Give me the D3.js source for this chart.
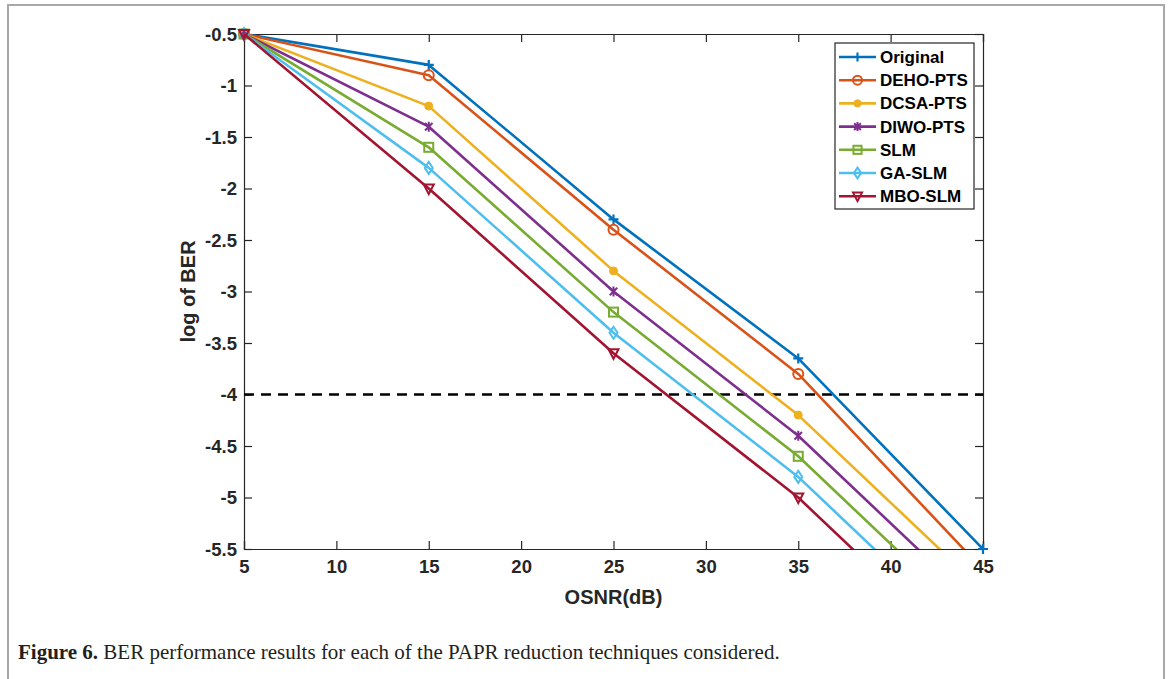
<!DOCTYPE html>
<html>
<head>
<meta charset="utf-8">
<script src="https://cdn.jsdelivr.net/npm/d3@7"></script>
<style>
  html, body { margin: 0; padding: 0; background: #fff; }
  svg { display: block; }
</style>
</head>
<body>
<svg id="chart" width="1170" height="679"></svg>
<script>
// OSNR sweep points (dB)
const osnr = [5, 15, 25, 35, 45];

// log10(BER) per technique
const original = [-0.5, -0.8, -2.3, -3.65, -5.5];
const dehoPts  = [-0.5, -0.9, -2.4, -3.8, -5.7];
const dcsaPts  = [-0.5, -1.2, -2.8, -4.2, -5.9];
const diwoPts  = [-0.5, -1.4, -3.0, -4.4, -6.1];
const slm      = [-0.5, -1.6, -3.2, -4.6, -6.3];
const gaSlm    = [-0.5, -1.8, -3.4, -4.8, -6.5];
const mboSlm   = [-0.5, -2.0, -3.6, -5.0, -6.7];

const seriesNames = ["Original", "DEHO-PTS", "DCSA-PTS", "DIWO-PTS", "SLM", "GA-SLM", "MBO-SLM"];
const seriesValues = [original, dehoPts, dcsaPts, diwoPts, slm, gaSlm, mboSlm];
const seriesColors = ["#0072BD", "#D95319", "#EDB120", "#7E2F8E", "#77AC30", "#4DBEEE", "#A2142F"];
const seriesMarkers = ["plus", "circle", "dot", "star", "square", "diamond", "triangle"];

// Reference threshold
const thresholdLevel = -4;

const xTicks = [5, 10, 15, 20, 25, 30, 35, 40, 45];
const yTicks = [-0.5, -1, -1.5, -2, -2.5, -3, -3.5, -4, -4.5, -5, -5.5];

const svg = d3.select("#chart");
const pLeft = 244, pRight = 983, pTop = 34, pBottom = 549;

const x = d3.scaleLinear().domain([5, 45]).range([pLeft, pRight]);
const y = d3.scaleLinear().domain([-5.5, -0.5]).range([pBottom, pTop]);

const sans = "'Liberation Sans', Arial, sans-serif";

// Outer figure frame
svg.append("rect")
  .attr("x", 8).attr("y", 5).attr("width", 1156).attr("height", 720)
  .attr("fill", "none").attr("stroke", "#a8a8a8").attr("stroke-width", 2);

svg.append("defs").append("clipPath").attr("id", "plotClip")
  .append("rect").attr("x", pLeft).attr("y", pTop)
  .attr("width", pRight - pLeft).attr("height", pBottom - pTop);

// Axes (box with inward ticks on all sides); labels use a plain hyphen minus
const tickLen = 8;
const fmt = d => String(d);

const axB = svg.append("g").attr("transform", `translate(0,${pBottom})`)
  .call(d3.axisBottom(x).tickValues(xTicks).tickSize(-tickLen).tickPadding(8).tickFormat(fmt));
const axT = svg.append("g").attr("transform", `translate(0,${pTop})`)
  .call(d3.axisTop(x).tickValues(xTicks).tickSize(-tickLen).tickFormat(""));
const axL = svg.append("g").attr("transform", `translate(${pLeft},0)`)
  .call(d3.axisLeft(y).tickValues(yTicks).tickSize(-tickLen).tickPadding(7).tickFormat(fmt));
const axR = svg.append("g").attr("transform", `translate(${pRight},0)`)
  .call(d3.axisRight(y).tickValues(yTicks).tickSize(-tickLen).tickFormat(""));

[axB, axT, axL, axR].forEach(a => {
  a.select(".domain").attr("stroke", "#262626").attr("stroke-width", 1.2);
  a.selectAll(".tick line").attr("stroke", "#262626").attr("stroke-width", 1.2);
  a.selectAll("text").attr("font-family", sans).attr("font-weight", "bold")
    .attr("font-size", 18.5).attr("fill", "#262626");
});
axB.selectAll("text").attr("dy", "0.85em");
axL.selectAll("text").attr("dy", "0.35em");

// Axis titles
svg.append("text").attr("x", (pLeft + pRight) / 2).attr("y", 604)
  .attr("text-anchor", "middle").attr("font-family", sans).attr("font-weight", "bold")
  .attr("font-size", 20).attr("fill", "#262626").text("OSNR(dB)");

svg.append("text").attr("transform", `translate(195,${(pTop + pBottom) / 2}) rotate(-90)`)
  .attr("text-anchor", "middle").attr("font-family", sans).attr("font-weight", "bold")
  .attr("font-size", 20).attr("fill", "#262626").text("log of BER");

// Threshold line
svg.append("line")
  .attr("x1", x(5)).attr("x2", x(45)).attr("y1", y(thresholdLevel)).attr("y2", y(thresholdLevel))
  .attr("stroke", "#000").attr("stroke-width", 2.5).attr("stroke-dasharray", "10,7");

// Marker drawing
function drawMarker(g, type, color, size) {
  const s = size;
  switch (type) {
    case "plus":
      g.append("path").attr("d", `M${-s},0H${s}M0,${-s}V${s}`)
        .attr("stroke", color).attr("stroke-width", 2.2).attr("fill", "none");
      break;
    case "circle":
      g.append("circle").attr("r", s).attr("fill", "none").attr("stroke", color).attr("stroke-width", 2);
      break;
    case "dot":
      g.append("circle").attr("r", s * 0.8).attr("fill", color).attr("stroke", color).attr("stroke-width", 1);
      break;
    case "star": {
      const d = s * 0.75;
      g.append("path").attr("d", `M${-d},${-d}L${d},${d}M${-d},${d}L${d},${-d}M0,${-s}V${s}`)
        .attr("stroke", color).attr("stroke-width", 2).attr("fill", "none");
      break;
    }
    case "square":
      g.append("rect").attr("x", -s * 0.9).attr("y", -s * 0.9).attr("width", s * 1.8).attr("height", s * 1.8)
        .attr("fill", "none").attr("stroke", color).attr("stroke-width", 2);
      break;
    case "diamond":
      g.append("path").attr("d", `M0,${-s * 1.2}L${s * 0.8},0L0,${s * 1.2}L${-s * 0.8},0Z`)
        .attr("fill", "none").attr("stroke", color).attr("stroke-width", 2);
      break;
    case "triangle":
      g.append("path").attr("d", `M${-s},${-s * 0.8}L${s},${-s * 0.8}L0,${s * 1.1}Z`)
        .attr("fill", "none").attr("stroke", color).attr("stroke-width", 2);
      break;
  }
}

const line = d3.line().x(d => x(d[0])).y(d => y(d[1]));

seriesValues.forEach((vals, i) => {
  const pts = osnr.map((o, k) => [o, vals[k]]);
  svg.append("path").datum(pts)
    .attr("clip-path", "url(#plotClip)")
    .attr("d", line).attr("fill", "none")
    .attr("stroke", seriesColors[i]).attr("stroke-width", 2.6)
    .attr("stroke-linejoin", "round");
  pts.filter(p => p[1] >= -5.5 && p[1] <= -0.5).forEach(p => {
    const g = svg.append("g").attr("transform", `translate(${x(p[0])},${y(p[1])})`);
    drawMarker(g, seriesMarkers[i], seriesColors[i], 5);
  });
});

// Legend
const legend = svg.append("g");
legend.append("rect").attr("x", 835).attr("y", 43).attr("width", 139).attr("height", 166)
  .attr("fill", "#fff").attr("stroke", "#262626").attr("stroke-width", 1.2);
seriesNames.forEach((name, i) => {
  const cy = 57 + i * 23.2;
  legend.append("line").attr("x1", 839).attr("x2", 876).attr("y1", cy).attr("y2", cy)
    .attr("stroke", seriesColors[i]).attr("stroke-width", 2.6);
  const g = legend.append("g").attr("transform", `translate(857.5,${cy})`);
  drawMarker(g, seriesMarkers[i], seriesColors[i], 4.5);
  legend.append("text").attr("x", 880).attr("y", cy).attr("dy", "0.35em")
    .attr("font-family", sans).attr("font-weight", "bold").attr("font-size", 17)
    .attr("fill", "#000").text(name);
});

// Caption
const cap = svg.append("text").attr("x", 18).attr("y", 659)
  .attr("font-family", "'Liberation Serif', 'Times New Roman', serif").attr("font-size", 21)
  .attr("fill", "#231f20");
cap.append("tspan").attr("font-weight", "bold").text("Figure 6.");
cap.append("tspan").text(" BER performance results for each of the PAPR reduction techniques considered.");
</script>
</body>
</html>
